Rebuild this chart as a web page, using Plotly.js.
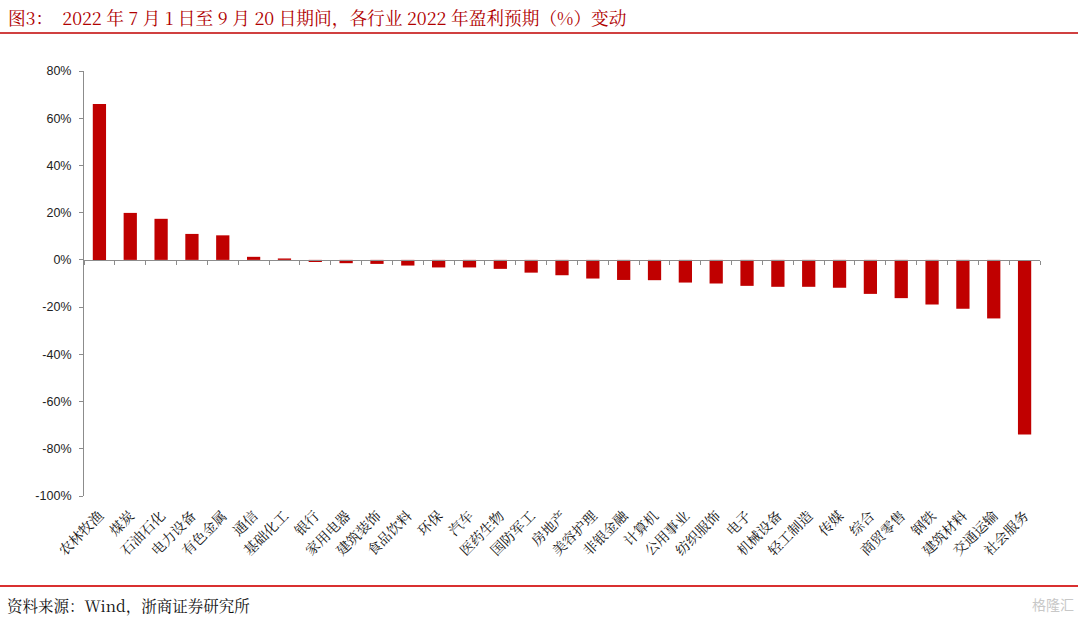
<!DOCTYPE html>
<html>
<head>
<meta charset="utf-8">
<script src="https://cdn.plot.ly/plotly-3.0.1.min.js"></script>
<style>html,body{margin:0;padding:0;background:#fff;}#chart{width:1080px;height:618px;}</style>
</head>
<body>
<div id="chart"></div>
<script>
const categories = ["农林牧渔","煤炭","石油石化","电力设备","有色金属","通信","基础化工","银行","家用电器","建筑装饰","食品饮料","环保","汽车","医药生物","国防军工","房地产","美容护理","非银金融","计算机","公用事业","纺织服饰","电子","机械设备","轻工制造","传媒","综合","商贸零售","钢铁","建筑材料","交通运输","社会服务"];
const values = [66.0,19.9,17.4,11.0,10.4,1.3,0.6,-0.9,-1.4,-1.7,-2.4,-3.2,-3.2,-3.8,-5.4,-6.5,-7.9,-8.5,-8.6,-9.6,-10.0,-11.0,-11.4,-11.4,-11.8,-14.4,-16.2,-18.9,-20.7,-24.8,-74.0];
const yTickVals = [80,60,40,20,0,-20,-40,-60,-80,-100];
const yTickText = ["80%","60%","40%","20%","0%","-20%","-40%","-60%","-80%","-100%"];
const titleText = "图3：  2022 年 7 月 1 日至 9 月 20 日期间，各行业 2022 年盈利预期（%）变动";
const sourceText = "资料来源：Wind，浙商证券研究所";

const L=84, R=1040, T=71, B=496;
const W=R-L, H=B-T;
const px = x => (x-L)/W;
const py = y => (B-y)/H;
const yMin=-100, yMax=80;
const zeroPos = (0-yMin)/(yMax-yMin);

const serif = "'Noto Serif CJK SC','Noto Sans CJK SC','Liberation Serif',serif";

const traces = [
  {type:'bar', x:categories, y:values, marker:{color:'#C00000'}, xaxis:'x', yaxis:'y', hoverinfo:'x+y'},
  {type:'scatter', mode:'none', x:categories, y:values.map(()=>0), xaxis:'x2', yaxis:'y', hoverinfo:'skip', showlegend:false}
];

const layout = {
  width:1080, height:618,
  margin:{l:L, r:1080-R, t:T, b:618-B, pad:0},
  paper_bgcolor:'#fff', plot_bgcolor:'#fff',
  showlegend:false,
  bargap:0.57,
  xaxis:{type:'category', showline:false, ticks:'', showgrid:false, zeroline:false,
         tickangle:-45, ticklabelstandoff:8, tickfont:{family:serif, size:14, color:'#111'}, automargin:false},
  xaxis2:{type:'category', overlaying:'x', anchor:'free', position:zeroPos, matches:'x',
          showline:true, linecolor:'#8c8c8c', linewidth:1, ticks:'outside', ticklen:4, tickcolor:'#8c8c8c',
          tickson:'boundaries', showticklabels:false, showgrid:false, zeroline:false},
  yaxis:{range:[yMin,yMax], tickvals:yTickVals, ticktext:yTickText, showline:true, linecolor:'#8c8c8c',
         linewidth:1, ticks:'outside', ticklen:4, tickcolor:'#8c8c8c', showgrid:false, zeroline:false,
         ticklabelstandoff:5,
         tickfont:{family:"'Liberation Sans',Arial,sans-serif", size:12.5, color:'#222'}, automargin:false},
  shapes:[
    {type:'line', xref:'paper', yref:'paper', x0:px(0), x1:px(1078), y0:py(33), y1:py(33), line:{color:'#C00000', width:1.5}},
    {type:'line', xref:'paper', yref:'paper', x0:px(0), x1:px(1078), y0:py(586), y1:py(586), line:{color:'#D93030', width:2}}
  ],
  annotations:[
    {xref:'paper', yref:'paper', x:px(6), y:py(17), xanchor:'left', yanchor:'middle', showarrow:false,
     text:titleText, font:{family:serif, size:17.7, color:'#B00000'}},
    {xref:'paper', yref:'paper', x:px(5), y:py(605), xanchor:'left', yanchor:'middle', showarrow:false,
     text:sourceText, font:{family:serif, size:15.5, color:'#111'}},
    {xref:'paper', yref:'paper', x:px(1076), y:py(604), xanchor:'right', yanchor:'middle', showarrow:false,
     text:"格隆汇", font:{family:"'Noto Sans CJK SC',sans-serif", size:14, color:'#c8c8c8'}}
  ]
};

Plotly.newPlot('chart', traces, layout, {displayModeBar:false, staticPlot:true});
</script>
</body>
</html>
